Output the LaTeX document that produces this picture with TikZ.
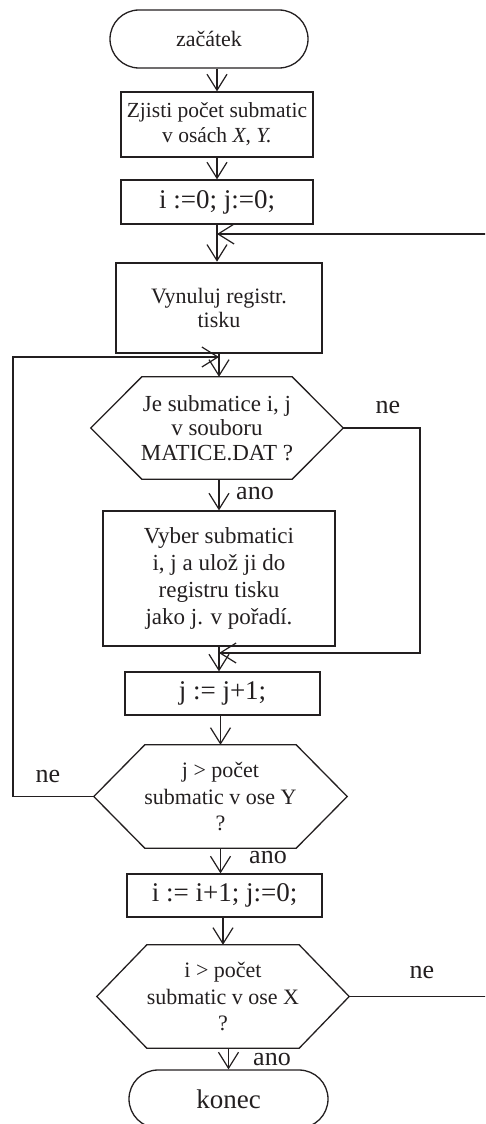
\documentclass[tikz,border=0pt]{standalone}
\usepackage{fontspec}
\setmainfont{Liberation Serif}
\usetikzlibrary{arrows.meta}
\definecolor{ink}{RGB}{35,31,32}
\tikzset{
  line/.style={draw=ink, line width=1.3pt},
  arr/.style={line, -{Straight Barb[length=16pt, width=20pt, line width=1.2pt]}},
  box/.style={line, rectangle, inner sep=0pt, align=center, text=ink,
              font=\fontsize{21.5}{25}\selectfont},
  term/.style={box, rounded corners=29pt},
  hexnode/.style={inner sep=0pt, align=center, text=ink,
              font=\fontsize{21}{24.5}\selectfont},
  lab/.style={text=ink, font=\fontsize{26}{28}\selectfont, inner sep=0pt}
}
\begin{document}
\begin{tikzpicture}[x=1pt, y=-1pt]
\clip (0,0) rectangle (485,1124);
% nodes
\node[term, minimum width=198pt, minimum height=58pt, font=\fontsize{22}{24}\selectfont] (start) at (209,39) {začátek};
\node[box, minimum width=192pt, minimum height=65pt] (b1) at (217,124.5) {Zjisti počet submatic\\v osách \textit{X}, \textit{Y.}};
\node[box, minimum width=192pt, minimum height=44pt, font=\fontsize{27}{28}\selectfont] (b2) at (217,202) {i :=0; j:=0;};
\node[box, line width=2.6pt, minimum width=206pt, minimum height=90pt, font=\fontsize{22}{24.5}\selectfont] (b3) at (219,308) {Vynuluj registr.\\tisku};
\node[hexnode, minimum width=252pt, minimum height=102pt, font=\fontsize{23}{24.5}\selectfont] (h1) at (217,428) {Je submatice i, j\\v souboru\\MATICE.DAT ?};
\node[box, minimum width=232pt, minimum height=135pt, font=\fontsize{23}{26.7}\selectfont] (b4) at (219,578.5) {Vyber submatici\\i, j a ulož ji do\\registru tisku\\jako j. v pořadí.};
\node[box, minimum width=195pt, minimum height=43pt, font=\fontsize{27}{28}\selectfont] (b5) at (222.5,693.5) {j := j+1;};
\node[hexnode, minimum width=253pt, minimum height=103pt, font=\fontsize{22}{26.5}\selectfont] (h2) at (220.5,796.5) {j > počet\\submatic v ose Y\\?};
\node[box, minimum width=195pt, minimum height=43pt, font=\fontsize{27}{28}\selectfont] (b6) at (224.5,895.5) {i := i+1; j:=0;};
\node[hexnode, minimum width=252pt, minimum height=103pt, font=\fontsize{22}{26.5}\selectfont] (h3) at (223,996.5) {i > počet\\submatic v ose X\\?};
\node[term, minimum width=199pt, minimum height=58pt, font=\fontsize{27}{28}\selectfont] (end) at (228.5,1099) {konec};
% hexagon outlines
\foreach \n/\d in {h1/51pt,h2/51pt,h3/50pt}{
  \draw[line] ([xshift=\d]\n.north west) -- ([xshift=-\d]\n.north east) -- (\n.east)
    -- ([xshift=-\d]\n.south east) -- ([xshift=\d]\n.south west) -- (\n.west) -- cycle;
}
% junction coordinates
\coordinate (j1) at (217,234);
\coordinate (j2) at (219,357);
\coordinate (j3) at (219,653);
\coordinate (L) at (13,357);
\coordinate (R1) at (420,428);
\coordinate (R2) at (500,996.5);
% main flow
\draw[arr] (b1.north |- start.south) -- (b1.north);
\draw[arr] (b1.south) -- (b2.north);
\draw[arr] (b2.south) -- (b2.south |- b3.north);
\draw[arr] (b3.south -| j2) -- (j2 |- h1.north);
\draw[arr] (j2 |- h1.south) -- (j2 |- b4.north);
\draw[arr] (j3 |- b4.south) -- (j3 |- b5.north);
\draw[arr] (b5.south -| h2.north) -- (h2.north);
\draw[arr] (h2.south) -- (h2.south |- b6.north);
\draw[arr] (h3.north |- b6.south) -- (h3.north);
\draw[arr] (end.north |- h3.south) -- (end.north);
% loops
\draw[arr] (h1.east) -- (R1) |- (j3);
\draw[arr] (h2.west) -| (L) -- (j2);
\draw[arr] (h3.east) -- (R2) |- (j1);
% labels
\node[lab] (ne1) at (388,407) {ne};
\node[lab] (ano1) at (255,493) {ano};
\node[lab] (ne2) at (48,776) {ne};
\node[lab] (ano2) at (268,857) {ano};
\node[lab] (ne3) at (422,972) {ne};
\node[lab] (ano3) at (272,1059) {ano};
\end{tikzpicture}
\end{document}
